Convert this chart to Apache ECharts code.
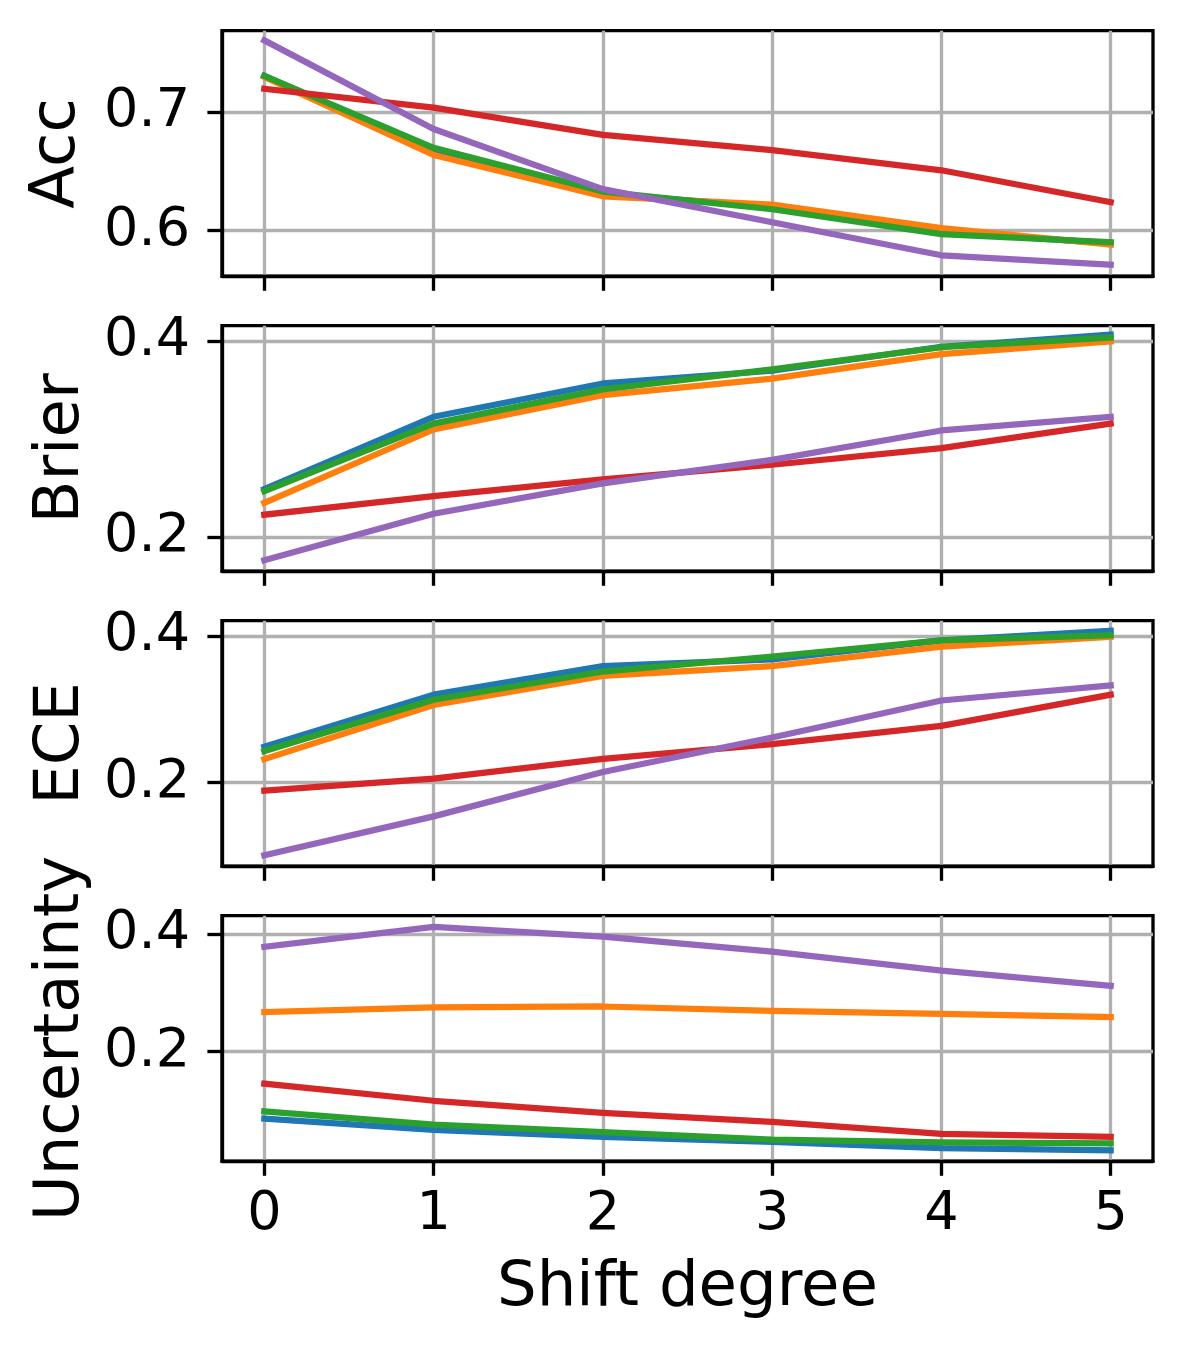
<!DOCTYPE html>
<html><head><meta charset="utf-8">
<script src="https://cdn.jsdelivr.net/npm/echarts@6/dist/echarts.min.js"></script>
<style>html,body{margin:0;padding:0;background:#fff}#c{width:1182px;height:1350px}</style>
</head><body><div id="c"></div>
<script>
// ---- data ----
const shiftDegrees = [0, 1, 2, 3, 4, 5];
const xTickValues = [0, 1, 2, 3, 4, 5];
const panelNames = ['Acc', 'Brier', 'ECE', 'Uncertainty'];
const seriesNames = ['Method 1', 'Method 2', 'Method 3', 'Method 4', 'Method 5'];
const seriesColors = ['#1f77b4', '#ff7f0e', '#2ca02c', '#d62728', '#9467bd'];

const accBlue   = [0.731, 0.667, 0.631, 0.620, 0.599, 0.589];
const accOrange = [0.730, 0.664, 0.629, 0.622, 0.602, 0.588];
const accGreen  = [0.731, 0.670, 0.633, 0.618, 0.597, 0.590];
const accRed    = [0.720, 0.704, 0.681, 0.668, 0.651, 0.624];
const accPurple = [0.761, 0.686, 0.635, 0.607, 0.579, 0.571];

const brierBlue   = [0.249, 0.323, 0.357, 0.370, 0.3945, 0.407];
const brierOrange = [0.235, 0.310, 0.345, 0.362, 0.387, 0.400];
const brierGreen  = [0.247, 0.316, 0.351, 0.3715, 0.394, 0.404];
const brierRed    = [0.223, 0.242, 0.259, 0.274, 0.291, 0.316];
const brierPurple = [0.1765, 0.224, 0.255, 0.279, 0.309, 0.323];

const eceBlue   = [0.249, 0.320, 0.359, 0.368, 0.394, 0.407];
const eceOrange = [0.232, 0.306, 0.3455, 0.359, 0.3855, 0.399];
const eceGreen  = [0.243, 0.313, 0.3515, 0.372, 0.394, 0.401];
const eceRed    = [0.189, 0.2055, 0.2325, 0.2525, 0.2775, 0.320];
const ecePurple = [0.101, 0.154, 0.2145, 0.2615, 0.312, 0.3325];

const uncBlue   = [0.086, 0.067, 0.055, 0.0465, 0.036, 0.032];
const uncOrange = [0.2675, 0.2755, 0.277, 0.2695, 0.2645, 0.259];
const uncGreen  = [0.0985, 0.076, 0.063, 0.0505, 0.0455, 0.044];
const uncRed    = [0.1455, 0.1165, 0.096, 0.0805, 0.060, 0.055];
const uncPurple = [0.3785, 0.4125, 0.396, 0.3705, 0.338, 0.312];

const yTicksAcc = [0.6, 0.7];
const yTicksBrier = [0.2, 0.4];
const yTicksECE = [0.2, 0.4];
const yTicksUnc = [0.2, 0.4];
const yLimits = [[0.5613, 0.7692], [0.1653, 0.4160], [0.0861, 0.4208], [0.0136, 0.4316]];
const xLimits = [-0.25, 5.25];
const xLabel = 'Shift degree';

// ---- build ----
const panelData = [
  [accBlue, accOrange, accGreen, accRed, accPurple],
  [brierBlue, brierOrange, brierGreen, brierRed, brierPurple],
  [eceBlue, eceOrange, eceGreen, eceRed, ecePurple],
  [uncBlue, uncOrange, uncGreen, uncRed, uncPurple]
];
const panelTicks = [yTicksAcc, yTicksBrier, yTicksECE, yTicksUnc];

const FONT = 'DejaVu Sans';
const LW = 3.33;
const TICK_FS = 54;
const LABEL_FS = 62.5;
const grids = [], xAxes = [], yAxes = [], series = [];
for (let p = 0; p < 4; p++) {
  grids.push({
    left: 222, width: 931, top: 30.7 + 295 * p, height: 245.5,
    show: true, borderColor: '#000', borderWidth: LW, backgroundColor: 'transparent',
    containLabel: false, outerBoundsMode: 'none'
  });
  const last = p === 3;
  xAxes.push({
    gridIndex: p, type: 'value', min: xLimits[0], max: xLimits[1],
    axisLine: { show: true, onZero: false, lineStyle: { color: '#000', width: LW } },
    axisTick: { show: true, inside: false, length: 14.6, customValues: xTickValues,
                lineStyle: { color: '#000', width: LW } },
    axisLabel: { show: last, customValues: xTickValues, margin: 27, color: '#000',
                 fontFamily: FONT, fontSize: TICK_FS, formatter: v => String(v) },
    splitLine: { show: true, lineStyle: { color: '#b0b0b0', width: LW } },
    name: last ? xLabel : '', nameLocation: 'middle', nameGap: 96,
    nameTextStyle: { color: '#000', fontFamily: FONT, fontSize: LABEL_FS }
  });
  yAxes.push({
    gridIndex: p, type: 'value', min: yLimits[p][0], max: yLimits[p][1],
    axisLine: { show: true, onZero: false, lineStyle: { color: '#000', width: LW } },
    axisTick: { show: true, inside: false, length: 14.6, customValues: panelTicks[p],
                lineStyle: { color: '#000', width: LW } },
    axisLabel: { show: true, customValues: panelTicks[p], margin: 32, color: '#000',
                 fontFamily: FONT, fontSize: TICK_FS, formatter: v => v.toFixed(1) },
    splitLine: { show: true, lineStyle: { color: '#b0b0b0', width: LW } },
    name: panelNames[p], nameLocation: 'middle', nameGap: p === 0 ? 132.5 : 127.5,
    nameTextStyle: { color: '#000', fontFamily: FONT, fontSize: LABEL_FS }
  });
  panelData[p].forEach((vals, s) => {
    series.push({
      name: seriesNames[s], type: 'line', xAxisIndex: p, yAxisIndex: p,
      data: shiftDegrees.map((x, i) => [x, vals[i]]),
      showSymbol: false, symbol: 'none', silent: true,
      lineStyle: { color: seriesColors[s], width: 6.25, join: 'round', cap: 'square' },
      itemStyle: { color: seriesColors[s] }
    });
  });
}

const chart = echarts.init(document.getElementById('c'), null, { renderer: 'canvas' });
chart.setOption({
  backgroundColor: '#fff',
  animation: false,
  grid: grids, xAxis: xAxes, yAxis: yAxes, series: series
});
</script></body></html>
